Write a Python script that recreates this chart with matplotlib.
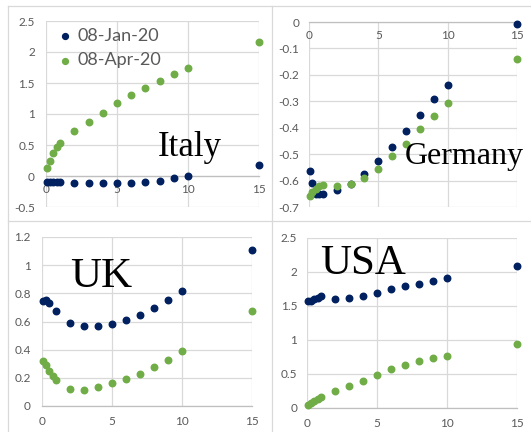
import numpy as np
import matplotlib
matplotlib.use("Agg")
import matplotlib.pyplot as plt
from matplotlib.lines import Line2D
from matplotlib.ticker import FuncFormatter

# maturities in years
maturity = [1/12, 0.25, 0.5, 0.75, 1, 2, 3, 4, 5, 6, 7, 8, 9, 10, 15]

italy_jan = [-0.10, -0.10, -0.10, -0.10, -0.10, -0.12, -0.12, -0.12, -0.12, -0.12, -0.10, -0.08, -0.04, 0.00, 0.17]
italy_apr = [0.13, 0.24, 0.37, 0.46, 0.53, 0.72, 0.87, 1.02, 1.17, 1.30, 1.42, 1.53, 1.64, 1.74, 2.16]

germany_jan = [-0.564, -0.608, -0.65, -0.65, -0.65, -0.634, -0.612, -0.576, -0.527, -0.473, -0.414, -0.353, -0.293, -0.238, -0.008]
germany_apr = [-0.658, -0.643, -0.631, -0.620, -0.615, -0.620, -0.614, -0.590, -0.555, -0.508, -0.460, -0.406, -0.354, -0.306, -0.140]

uk_jan = [0.743, 0.755, 0.734, np.nan, 0.675, 0.592, 0.568, 0.568, 0.582, 0.611, 0.646, 0.696, 0.755, 0.814, 1.110]
uk_apr = [0.317, 0.289, 0.246, 0.213, 0.187, 0.121, 0.116, 0.133, 0.163, 0.192, 0.225, 0.277, 0.327, 0.391, 0.672]

usa_jan = [1.574, 1.57, 1.60, 1.62, 1.64, 1.608, 1.618, 1.652, 1.696, 1.745, 1.789, 1.828, 1.868, 1.907, 2.093]
usa_apr = [0.05, 0.07, 0.10, 0.13, 0.157, 0.255, 0.324, 0.402, 0.485, 0.569, 0.632, 0.691, 0.735, 0.765, 0.941]

labels = ["08-Jan-20", "08-Apr-20"]
navy = "#002060"
green = "#70AD47"
grid_c = "#D9D9D9"
text_c = "#595959"

W, H = 531, 432
fig = plt.figure(figsize=(W / 100, H / 100), dpi=100)
plt.rcParams['font.family'] = ['Lato', 'DejaVu Sans']


def px_axes(l, r, t, b):
    return fig.add_axes([l / W, 1 - b / H, (r - l) / W, (b - t) / H])


def setup(ax, ylim, ystep, ypad, xpad):
    ax.set_xlim(0, 15)
    ax.set_ylim(*ylim)
    ax.set_xticks([0, 5, 10, 15])
    ax.set_yticks(np.arange(ylim[0], ylim[1] + ystep / 2, ystep))
    ax.yaxis.set_major_formatter(FuncFormatter(lambda v, p: f"{round(v, 2):g}" if abs(v) > 1e-9 else "0"))
    ax.grid(True, color=grid_c, linewidth=0.9)
    ax.set_axisbelow(True)
    for s in ["top", "right", "left"]:
        ax.spines[s].set_visible(False)
    ax.spines["bottom"].set_position(("data", 0))
    ax.spines["bottom"].set_color("#BFBFBF")
    ax.spines["bottom"].set_linewidth(0.9)
    ax.tick_params(axis="y", length=0, pad=ypad, labelsize=8.5, labelcolor=text_c)
    ax.tick_params(axis="x", length=0, pad=xpad, labelsize=8.5, labelcolor=text_c)


def plot_pair(ax, jan, apr):
    ax.scatter(maturity, jan, s=22, color=navy, zorder=3, clip_on=False, label=labels[0])
    ax.scatter(maturity, apr, s=22, color=green, zorder=3, clip_on=False, label=labels[1])


ax1 = px_axes(46, 259, 21, 207)
plot_pair(ax1, italy_jan, italy_apr)
setup(ax1, (-0.5, 2.5), 0.5, 8, 6)
leg = ax1.legend(loc="upper left", bbox_to_anchor=(0.014, 1.0), frameon=False, fontsize=13,
                 handlelength=1.0, handletextpad=0.2, labelspacing=0.45, borderaxespad=0,
                 borderpad=0.4, markerscale=0.9)
for t in leg.get_texts():
    t.set_color(text_c)

ax2 = px_axes(309, 517, 22, 207)
plot_pair(ax2, germany_jan, germany_apr)
setup(ax2, (-0.7, 0), 0.1, 7, 6)

ax3 = px_axes(42, 252, 237, 406)
plot_pair(ax3, uk_jan, uk_apr)
setup(ax3, (0, 1.2), 0.2, 8, 7)

ax4 = px_axes(307, 517, 238, 408)
plot_pair(ax4, usa_jan, usa_apr)
setup(ax4, (0, 2.5), 0.5, 7, 7)

# country names
serif = ['Liberation Serif', 'DejaVu Serif']
fig.text(158 / W, 1 - 156 / H, "Italy", family=serif, fontsize=25, va="baseline")
fig.text(405 / W, 1 - 164 / H, "Germany", family=serif, fontsize=23, va="baseline")
fig.text(70 / W, 1 - 287 / H, "UK", family=serif, fontsize=31, va="baseline")
fig.text(320 / W, 1 - 274 / H, "USA", family=serif, fontsize=31, va="baseline")

# chart borders
for (x0, y0, x1, y1) in [(8, 6, 531, 6), (8, 221, 531, 221), (8, 6, 8, 432), (272, 6, 272, 432)]:
    fig.add_artist(Line2D([x0 / W, x1 / W], [1 - y0 / H, 1 - y1 / H], color=grid_c, linewidth=0.9))

fig.savefig("out.png", dpi=100)
